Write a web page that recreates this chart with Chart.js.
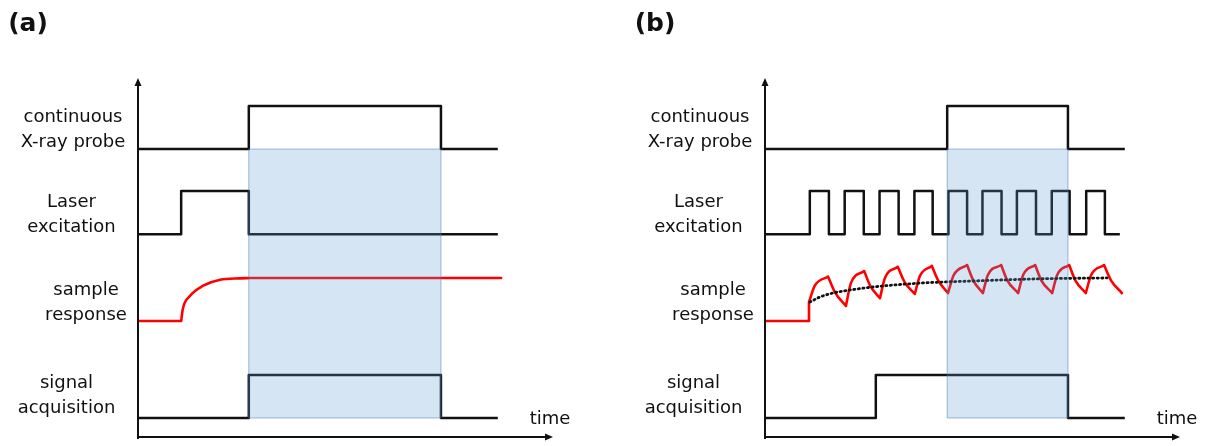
<!DOCTYPE html>
<html>
<head>
<meta charset="utf-8">
<script src="https://cdn.jsdelivr.net/npm/chart.js@4.4.0/dist/chart.umd.min.js"></script>
<style>
  html, body { margin: 0; padding: 0; background: #fff; }
  #wrap { position: relative; width: 1211px; height: 446px; }
  .panel { position: absolute; top: 0; height: 446px; }
  #pa { left: 0; width: 606px; }
  #pb { left: 606px; width: 605px; }
</style>
</head>
<body>
<div id="wrap">
  <div class="panel" id="pa"><canvas id="chartA"></canvas></div>
  <div class="panel" id="pb"><canvas id="chartB"></canvas></div>
</div>
<script>
// time runs 0..100 on both panels, signal levels are in units of one pulse height
const channelNames = [['continuous', 'X-ray probe'], ['Laser', 'excitation'], ['sample', 'response'], ['signal', 'acquisition']];
const panelTitles = ['(a)', '(b)'];
const axisTitle = 'time';

// panel (a): one long laser pulse
const probeTimeA = [0, 26.7, 73.0, 86.7];
const probeStateA = [0, 1, 0, 0];
const laserTimeA = [0, 10.4, 26.7, 86.7];
const laserStateA = [0, 1, 0, 0];
const respTimeA = [0, 10.4, 10.8, 12.5, 15.7, 19.8, 24.6, 27.0, 87.5];
const respValueA = [0, 0, 0.28, 0.58, 0.82, 0.96, 0.99, 1.0, 1.0];
const acqTimeA = [0, 26.7, 73.0, 86.7];
const acqStateA = [0, 1, 0, 0];
const windowA = [26.7, 73.0];

// panel (b): pulse train
const probeTimeB = [0, 43.9, 73.0, 86.7];
const probeStateB = [0, 1, 0, 0];
const laserTimeB = [0, 10.8, 15.4, 19.2, 23.8, 27.6, 32.2, 36.0, 40.4, 44.2, 48.7, 52.4, 57.0, 60.7, 65.3, 69.1, 73.4, 77.4, 81.9, 85.5];
const laserStateB = [0, 1, 0, 1, 0, 1, 0, 1, 0, 1, 0, 1, 0, 1, 0, 1, 0, 1, 0, 0];
const respTimeB = [0, 10.6, 10.6, 12.0, 15.2, 16.9, 19.5, 20.7, 23.9, 25.4, 27.7, 28.9, 32.0, 33.6, 36.1, 37.3, 40.2, 41.8, 44.1, 45.5,
  48.7, 50.2, 52.5, 53.7, 56.9, 58.4, 61.0, 62.2, 65.1, 66.6, 69.2, 70.4, 73.3, 74.8, 77.3, 78.6, 81.7, 83.4, 86.0];
const respValueB = [0, 0, 0.44, 0.82, 1.03, 0.66, 0.35, 0.88, 1.16, 0.81, 0.53, 1.00, 1.26, 0.91, 0.63, 1.04, 1.28, 0.93, 0.65, 1.07,
  1.30, 0.94, 0.65, 1.07, 1.30, 0.94, 0.65, 1.07, 1.30, 0.94, 0.65, 1.07, 1.30, 0.94, 0.65, 1.07, 1.30, 0.94, 0.65];
const avgTimeB = [10.8, 13.3, 16.4, 20.5, 26.0, 37.3, 50.1, 66.3, 82.4];
const avgValueB = [0.44, 0.56, 0.65, 0.72, 0.79, 0.88, 0.93, 0.98, 1.00];
const acqTimeB = [0, 26.7, 73.0, 86.7];
const acqStateB = [0, 1, 0, 0];
const windowB = [43.9, 73.0];

// layout
const PULSE = 12;
const base = [80.2, 56.5, 32.3, 5.3]; // probe, laser, response, acquisition
const labelDx = [65, 66.5, 52, 71.5];
const labelDy = [-7, -7, -6, -10];
const FONT = '"DejaVu Sans", sans-serif';

function stepData(times, states, b) {
  return times.map((t, i) => ({ x: t, y: b + states[i] * PULSE }));
}

// split the curve at corners and extrema so each piece is smoothed on its own
function curveData(times, values, b) {
  const out = [];
  for (let i = 0; i < times.length; i++) {
    const p = { x: times[i], y: b + values[i] * PULSE };
    out.push(p);
    if (i > 0 && i < times.length - 1) {
      const dt0 = times[i] - times[i - 1], dt1 = times[i + 1] - times[i];
      const s0 = Math.sign(values[i] - values[i - 1]), s1 = Math.sign(values[i + 1] - values[i]);
      if (dt0 === 0 || dt1 === 0 || s0 !== s1) {
        out.push({ x: times[i], y: null });
        out.push({ x: p.x, y: p.y });
      }
    }
  }
  return out;
}

function stepSet(data) {
  return { data, stepped: 'before', borderColor: '#111', borderWidth: 2.5, borderJoinStyle: 'round', pointRadius: 0 };
}
function curveSet(data, color) {
  return { data, borderColor: color, borderWidth: 2.6, cubicInterpolationMode: 'monotone', spanGaps: false,
    borderJoinStyle: 'round', borderCapStyle: 'round', pointRadius: 0 };
}

const decor = {
  id: 'decor',
  afterDatasetsDraw(chart, args, opts) {
    const { ctx, scales: { x, y } } = chart;
    const x0 = x.getPixelForValue(opts.window[0]), x1 = x.getPixelForValue(opts.window[1]);
    const yt = y.getPixelForValue(base[0]), yb = y.getPixelForValue(base[3]);
    ctx.save();
    ctx.fillStyle = 'rgba(91,155,213,0.26)';
    ctx.fillRect(x0, yt, x1 - x0, yb - yt);
    ctx.strokeStyle = 'rgba(70,120,175,0.5)';
    ctx.lineWidth = 1;
    ctx.strokeRect(x0, yt, x1 - x0, yb - yt);
    ctx.restore();
  },
  afterDraw(chart, args, opts) {
    const { ctx, chartArea: ca, scales: { y } } = chart;
    ctx.save();
    ctx.strokeStyle = '#111';
    ctx.fillStyle = '#111';
    ctx.lineWidth = 2;
    ctx.beginPath();
    ctx.moveTo(ca.left, ca.bottom + 2);
    ctx.lineTo(ca.left, ca.top + 6);
    ctx.moveTo(ca.left - 1, ca.bottom);
    ctx.lineTo(ca.right - 6, ca.bottom);
    ctx.stroke();
    ctx.beginPath();
    ctx.moveTo(ca.left, ca.top);
    ctx.lineTo(ca.left - 3.5, ca.top + 8);
    ctx.lineTo(ca.left + 3.5, ca.top + 8);
    ctx.closePath();
    ctx.moveTo(ca.right, ca.bottom);
    ctx.lineTo(ca.right - 8, ca.bottom - 3.5);
    ctx.lineTo(ca.right - 8, ca.bottom + 3.5);
    ctx.closePath();
    ctx.fill();

    ctx.textAlign = 'center';
    ctx.textBaseline = 'middle';
    ctx.font = '18px ' + FONT;
    channelNames.forEach((lines, k) => {
      const cx = ca.left - labelDx[k];
      const cy = y.getPixelForValue(base[k]) + labelDy[k];
      ctx.fillText(lines[0], cx, cy - 25);
      ctx.fillText(lines[1], cx, cy);
    });
    ctx.fillText(axisTitle, ca.right - 3, ca.bottom - 18);
    ctx.font = 'bold 25px ' + FONT;
    ctx.fillText(opts.title, ca.left - 110, 24);
    ctx.restore();
  }
};

function makeChart(id, datasets, win, title, pad) {
  return new Chart(document.getElementById(id), {
    type: 'line',
    data: { datasets },
    options: {
      responsive: true,
      maintainAspectRatio: false,
      animation: false,
      layout: { padding: pad },
      scales: {
        x: { type: 'linear', min: 0, max: 100, display: false },
        y: { type: 'linear', min: 0, max: 100, display: false }
      },
      plugins: {
        legend: { display: false },
        tooltip: { enabled: false },
        decor: { window: win, title }
      }
    },
    plugins: [decor]
  });
}

makeChart('chartA', [
  stepSet(stepData(probeTimeA, probeStateA, base[0])),
  stepSet(stepData(laserTimeA, laserStateA, base[1])),
  curveSet(curveData(respTimeA, respValueA, base[2]), '#ff0000'),
  stepSet(stepData(acqTimeA, acqStateA, base[3]))
], windowA, panelTitles[0], { left: 138, right: 53, top: 78, bottom: 9 });

const avgSet = curveSet(avgTimeB.map((t, i) => ({ x: t, y: base[2] + avgValueB[i] * PULSE })), '#111');
avgSet.borderDash = [1.2, 3.4];
avgSet.borderWidth = 2.8;

makeChart('chartB', [
  stepSet(stepData(probeTimeB, probeStateB, base[0])),
  stepSet(stepData(laserTimeB, laserStateB, base[1])),
  avgSet,
  curveSet(curveData(respTimeB, respValueB, base[2]), '#ff0000'),
  stepSet(stepData(acqTimeB, acqStateB, base[3]))
], windowB, panelTitles[1], { left: 159, right: 31, top: 78, bottom: 9 });
</script>
</body>
</html>
